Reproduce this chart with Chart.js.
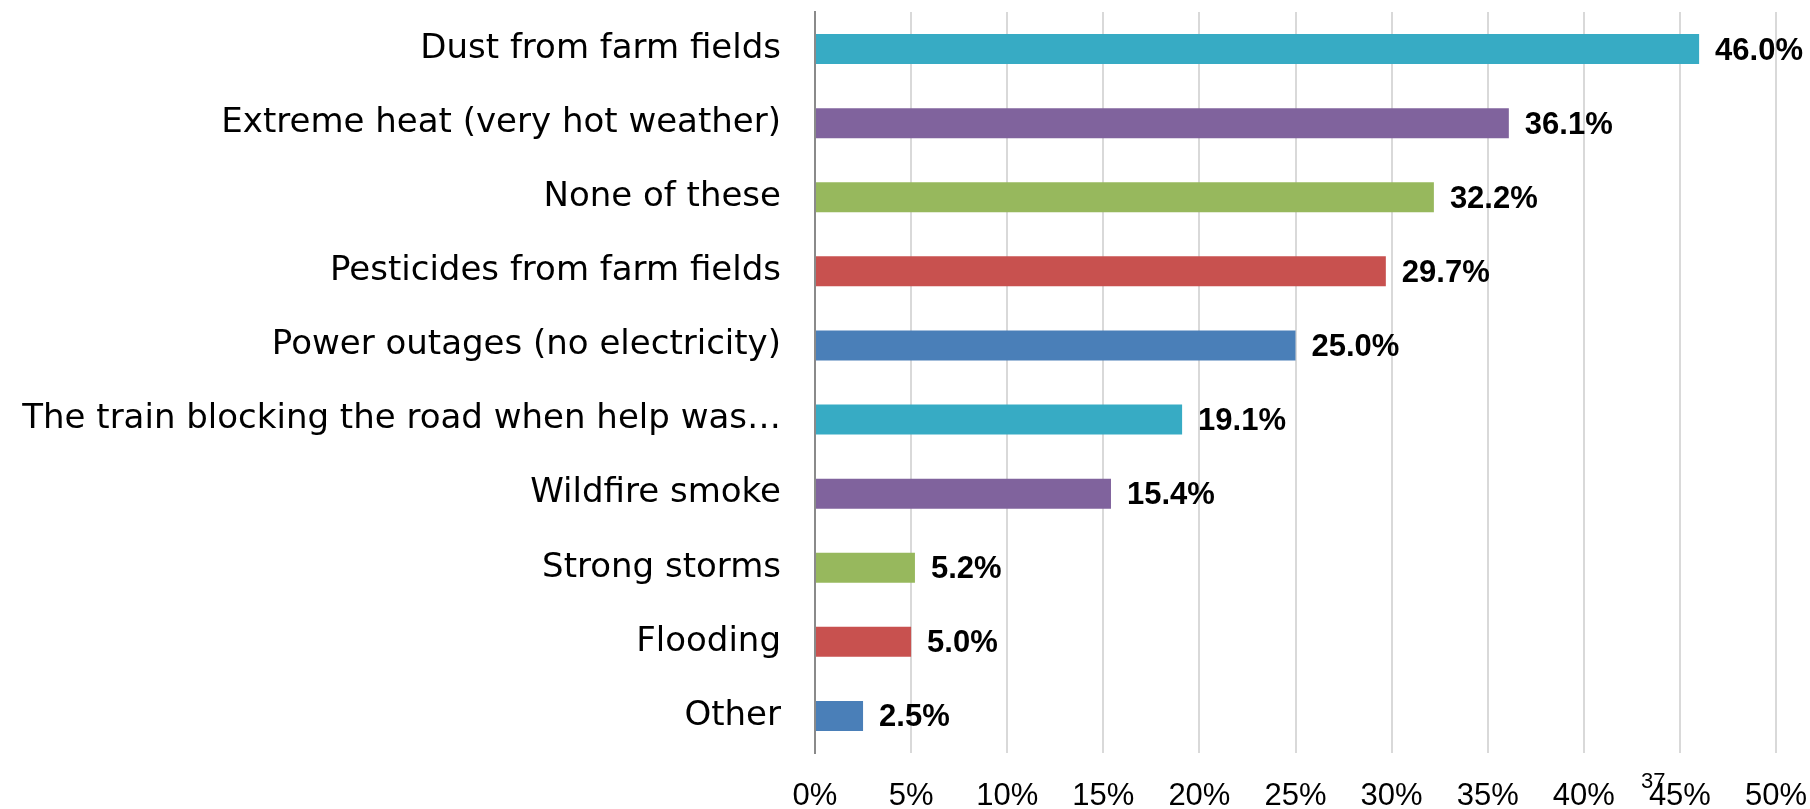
<!DOCTYPE html>
<html>
<head>
<meta charset="utf-8">
<script src="https://cdn.jsdelivr.net/npm/chart.js@4.4.1/dist/chart.umd.min.js"></script>
<style>
  html, body { margin: 0; padding: 0; background: #ffffff; }
  #wrap { width: 1810px; height: 809px; }
</style>
</head>
<body>
<div id="wrap"><canvas id="c" width="1810" height="809"></canvas></div>
<script>
const categories = [
  "Dust from farm fields",
  "Extreme heat (very hot weather)",
  "None of these",
  "Pesticides from farm fields",
  "Power outages (no electricity)",
  "The train blocking the road when help was\u2026",
  "Wildfire smoke",
  "Strong storms",
  "Flooding",
  "Other"
];
const values = [46.0, 36.1, 32.2, 29.7, 25.0, 19.1, 15.4, 5.2, 5.0, 2.5];
const barColors = ["#37abc4", "#80639d", "#97b85d", "#c8514f", "#4a7fb8",
                   "#37abc4", "#80639d", "#97b85d", "#c8514f", "#4a7fb8"];
const xMin = 0, xMax = 50, xStep = 5;
const pageNumber = "37";

const valueLabels = {
  id: "valueLabels",
  afterDatasetsDraw(chart) {
    const ctx = chart.ctx;
    const meta = chart.getDatasetMeta(0);
    ctx.save();
    ctx.font = "bold 31px 'Liberation Sans', Arial, sans-serif";
    ctx.fillStyle = "#000000";
    ctx.textAlign = "left";
    ctx.textBaseline = "middle";
    meta.data.forEach((el, i) => {
      ctx.fillText(values[i].toFixed(1) + "%", el.x + 16, el.y + 2);
    });
    ctx.restore();
  }
};

const pageNum = {
  id: "pageNum",
  afterDraw(chart) {
    const ctx = chart.ctx;
    ctx.save();
    ctx.font = "22px 'Liberation Sans', Arial, sans-serif";
    ctx.fillStyle = "#000000";
    ctx.textAlign = "left";
    ctx.textBaseline = "top";
    ctx.fillText(pageNumber, 1641, 771);
    ctx.restore();
  }
};

new Chart(document.getElementById("c"), {
  type: "bar",
  data: {
    labels: categories,
    datasets: [{
      data: values,
      backgroundColor: barColors,
      borderWidth: 0,
      categoryPercentage: 1.0,
      barPercentage: 0.405
    }]
  },
  options: {
    indexAxis: "y",
    responsive: false,
    animation: false,
    devicePixelRatio: 1,
    layout: { padding: { top: 12, right: 34, left: 0, bottom: 0 } },
    plugins: {
      legend: { display: false },
      tooltip: { enabled: false },
      title: { display: false }
    },
    scales: {
      x: {
        type: "linear",
        position: "bottom",
        min: xMin,
        max: xMax,
        ticks: {
          stepSize: xStep,
          callback: v => v + "%",
          color: "#000000",
          font: { family: "'Liberation Sans', Arial, sans-serif", size: 31 },
          padding: 25,
          maxRotation: 0
        },
        grid: { color: "#d9d9d9", lineWidth: 2, drawTicks: false },
        border: { display: false },
        afterFit: s => { s.height = 56; s.paddingLeft = 0; s.paddingRight = 0; }
      },
      y: {
        type: "category",
        position: "left",
        ticks: {
          color: "#000000",
          font: { family: "'DejaVu Sans', sans-serif", size: 34 },
          padding: 34,
          autoSkip: false
        },
        grid: { display: false, drawTicks: false },
        border: { display: true, color: "#8a8a8a", width: 2 },
        afterFit: s => { s.width = 815; s.paddingTop = 0; s.paddingBottom = 0; }
      }
    }
  },
  plugins: [valueLabels, pageNum]
});
</script>
</body>
</html>
